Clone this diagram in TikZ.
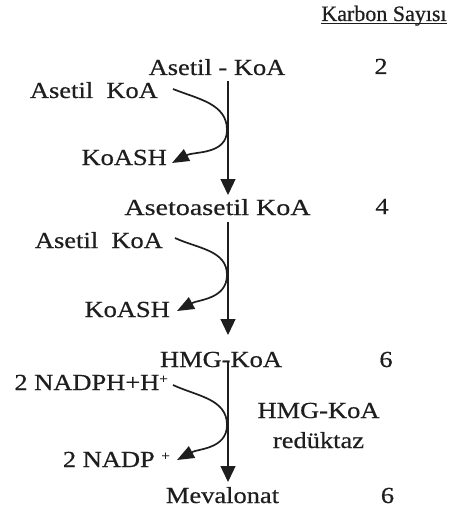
\documentclass[tikz,border=0pt]{standalone}
\usepackage{fontspec}
\setmainfont{Liberation Serif}[FakeStretch=1.15, FakeBold=0.5]
\newfontfamily\headfont{Liberation Serif}[FakeBold=0.5]
\usetikzlibrary{arrows.meta}
\definecolor{ink}{HTML}{1E1E1E}
\newcommand{\supplus}{\raisebox{0.3em}{\fontsize{13}{13}\selectfont +}}
\tikzset{
  lbl/.style={inner sep=0pt, text=ink, font=\fontsize{23}{26}\selectfont},
  main/.style={lbl, anchor=base},
  side/.style={lbl, anchor=base east},
  flow/.style={draw=ink, line width=1.3pt, -{Triangle[length=16pt,width=15pt]}},
  sidearrow/.style={draw=ink, line width=1.7pt, -{Triangle[length=17pt,width=13pt]}}
}
\begin{document}
\begin{tikzpicture}[x=1pt,y=-1pt]
\useasboundingbox[fill=white] (0,0) rectangle (451,513);

% column header
\node[lbl, anchor=base, font=\headfont\fontsize{22}{25}\selectfont] (hdr) at (384,21) {Karbon Sayısı};
\draw[ink, line width=1.1pt] ([yshift=-2.5pt]hdr.base west) -- ([yshift=-2.5pt]hdr.base east);

% main pathway
\node[main] (n1) at (217,75) {Asetil - KoA};
\node[main, xscale=1.06] (n2) at (217.5,215) {Asetoasetil KoA};
\node[main] (n3) at (221,367) {HMG-KoA};
\node[main] (n4) at (222.5,503) {Mevalonat};

% carbon counts
\node[main] (c1) at (381,74) {2};
\node[main] (c2) at (382,214) {4};
\node[main] (c3) at (386,367) {6};
\node[main] (c4) at (387.5,503) {6};

% co-substrates and by-products
\node[side] (a1) at (158,98) {Asetil\ \ KoA};
\node[side] (k1) at (167,165) {KoASH};
\node[side] (a2) at (163,248) {Asetil\ \ KoA};
\node[side] (k2) at (170,317) {KoASH};
\node[side] (p1) at (168,390) {2 NADPH+H\supplus};
\node[side] (p2) at (170,467) {2 NADP \supplus};

% enzyme
\node[main] (e1) at (318.5,418) {HMG-KoA};
\node[main] (e2) at (318.5,448) {redüktaz};

% ends of the vertical reaction arrows
\coordinate (v1s) at (228,81);  \coordinate (v1e) at (228,195);
\coordinate (v2s) at (228,222); \coordinate (v2e) at (228,335);
\coordinate (v3s) at (228,362); \coordinate (v3e) at (228,482);
\draw[flow] (v1s) -- (v1e);
\draw[flow] (v2s) -- (v2e);
\draw[flow] (v3s) -- (v3e);

% side reactions touching the main arrows
\coordinate (s1) at (173,89);  \coordinate (m1) at (227,130); \coordinate (t1) at (172,163);
\coordinate (s2) at (175,238); \coordinate (m2) at (227,275); \coordinate (t2) at (177,311);
\coordinate (s3) at (173,385); \coordinate (m3) at (227,425); \coordinate (t3) at (177,460);
\draw[sidearrow] (s1) to[out=-22,in=90] (m1) to[out=-90,in=28] (t1);
\draw[sidearrow] (s2) to[out=-25,in=90] (m2) to[out=-90,in=28] (t2);
\draw[sidearrow] (s3) to[out=-25,in=90] (m3) to[out=-90,in=28] (t3);
\end{tikzpicture}
\end{document}
